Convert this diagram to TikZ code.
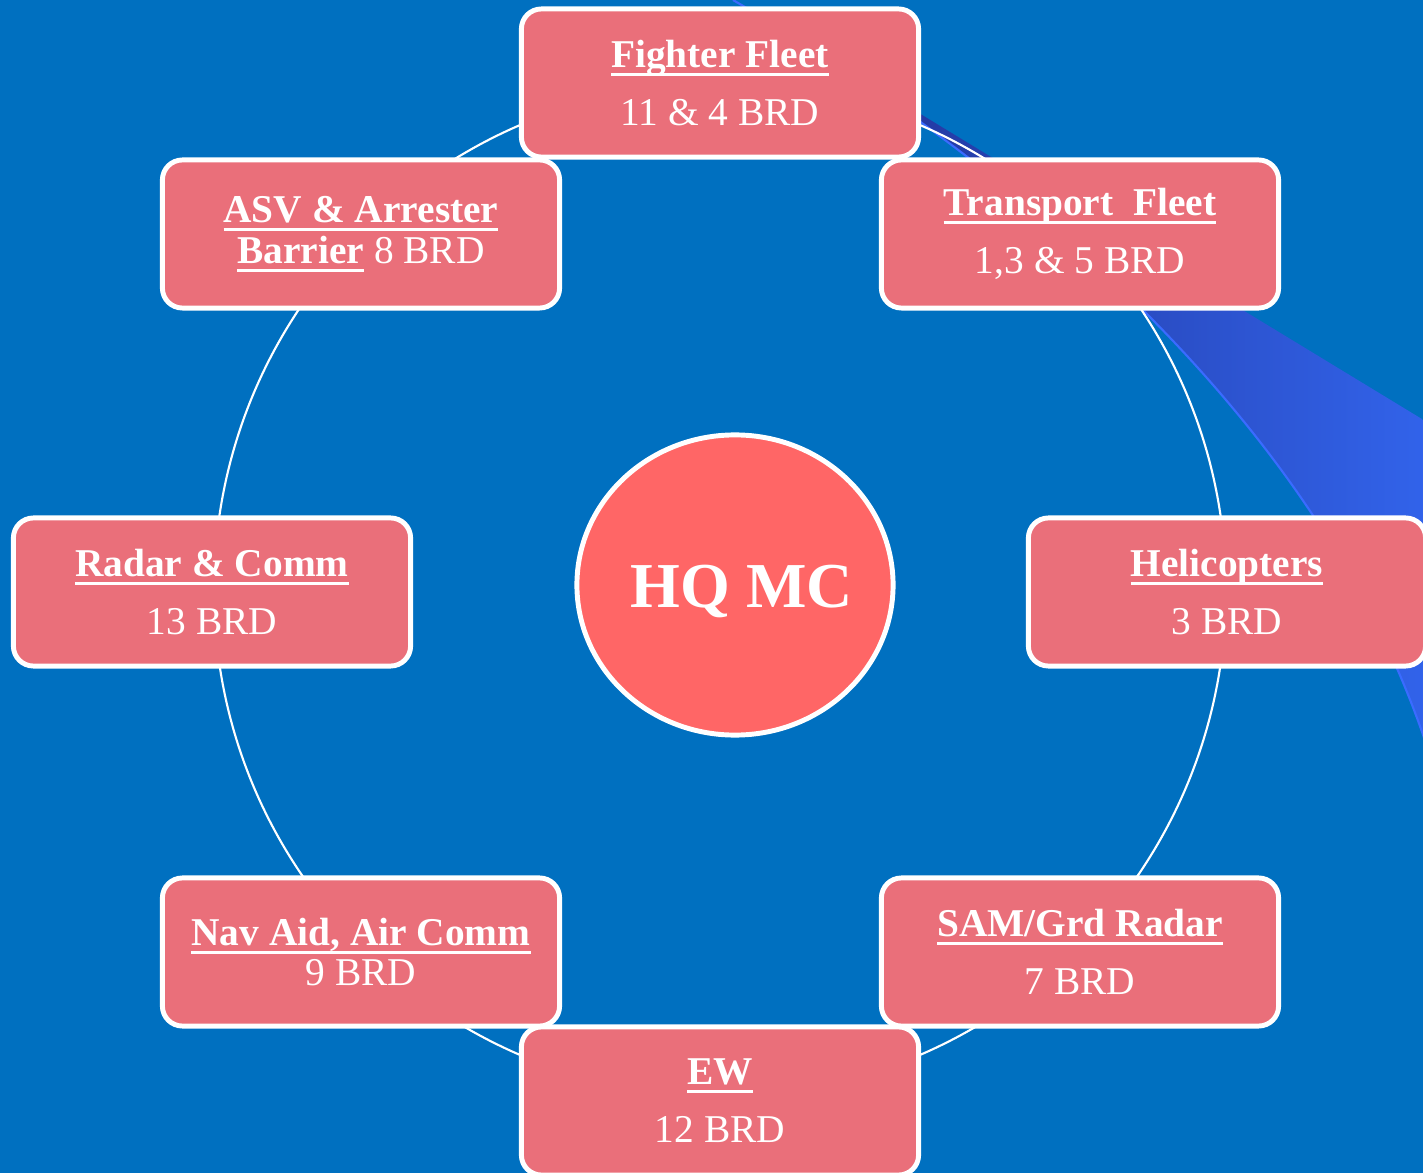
\documentclass[tikz,border=0pt]{standalone}
\usepackage{fontspec}
\setmainfont{Liberation Serif}
\usepackage{xcolor}
\usepackage{tikz}
\usetikzlibrary{positioning}
\usetikzlibrary{shapes.geometric}
\definecolor{bgblue}{HTML}{0070C0}
\definecolor{unitpink}{HTML}{EA6F7A}
\definecolor{hqred}{HTML}{FF6666}
\definecolor{swoopdark}{HTML}{1F2C8C}
\definecolor{swooplight}{HTML}{3264EC}
\definecolor{swoopedge}{HTML}{3A6BFF}
\newsavebox{\hdrbox}
\newcommand{\hdr}[1]{\sbox{\hdrbox}{\textbf{#1}}\rlap{\rule[-2.4pt]{\wd\hdrbox}{0.8pt}}\usebox{\hdrbox}}

\begin{document}
\begin{tikzpicture}[
    x=0.01cm, y=-0.01cm,
    unit/.style={
        rectangle, rounded corners=0.2cm,
        draw=white, line width=1.4pt, fill=unitpink,
        text=white, align=center, inner sep=0,
        minimum width=3.97cm, minimum height=1.48cm,
        font=\fontsize{11.2}{16.5}\selectfont},
    tight/.style={font=\fontsize{11.2}{11.6}\selectfont},
    hub/.style={
        ellipse, draw=white, line width=1.4pt, fill=hqred,
        inner sep=0, minimum width=3.16cm, minimum height=3.0cm},
    hubtext/.style={text=white, inner sep=0, font=\fontsize{18.2}{20}\selectfont\bfseries},
    ring/.style={draw=white, line width=0.6pt}]

\path[use as bounding box, clip] (0,0) rectangle (1423,1173);
\path[fill=bgblue] (0,0) rectangle (1423,1173);

\shade[left color=swoopdark, right color=swooplight]
    (733,0) -- (1440,430) -- (1440,790) .. controls (1340,420) and (990,150) .. (733,0) -- cycle;
\path[draw=swoopedge, line width=0.6pt] (733,0) .. controls (990,150) and (1340,420) .. (1440,790);

\coordinate (ringc) at (720,590);
\path[ring] (ringc) circle[radius=506];

\node[unit] (fighter)   at (720,83)   {\hdr{Fighter Fleet}\\11 \& 4 BRD};
\node[unit] (transport) at (1080,234) {\hdr{Transport\ \ Fleet}\\1,3 \& 5 BRD};
\node[unit] (heli)      at (1227,592) {\hdr{Helicopters}\\3 BRD};
\node[unit] (sam)       at (1080,952) {\hdr{SAM/Grd Radar}\\7 BRD};
\node[unit] (ew)        at (720,1101) {\hdr{EW}\\12 BRD};
\node[unit, tight] (navaid) at (361,952) {\hdr{Nav Aid, Air Comm}\\9 BRD};
\node[unit] (radar)     at (212,592)  {\hdr{Radar \& Comm}\\13 BRD};
\node[unit, tight] (asv) at (361,234) {\hdr{ASV \& Arrester}\\\hdr{Barrier} 8 BRD};

\node[hub] (hq) at (735,585) {};
\node[hubtext] (hqlabel) at ([xshift=0.07cm, yshift=-0.06cm]hq.center) {HQ MC};

\end{tikzpicture}
\end{document}
